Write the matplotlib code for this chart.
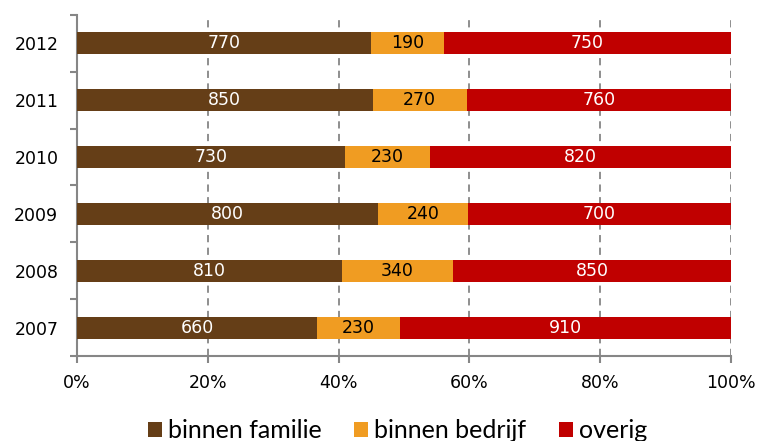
import numpy as np
import matplotlib.pyplot as plt
from matplotlib.ticker import FixedLocator, PercentFormatter

plt.rcParams["font.family"] = ["DejaVu Sans"]

years = ["2007", "2008", "2009", "2010", "2011", "2012"]
familie = [660, 810, 800, 730, 850, 770]
bedrijf = [230, 340, 240, 230, 270, 190]
overig = [910, 850, 700, 820, 760, 750]

series = [("binnen familie", familie, "#653E17", "white"),
          ("binnen bedrijf", bedrijf, "#F09C22", "black"),
          ("overig", overig, "#C00000", "white")]

totals = np.array(familie) + np.array(bedrijf) + np.array(overig)

fig = plt.figure(figsize=(7.59, 4.41), dpi=100)
ax = fig.add_axes([77 / 759, 1 - 356 / 441, 654 / 759, 341 / 441])

grey = "#868686"
y = np.arange(len(years))
left = np.zeros(len(years))
for name, vals, color, tcolor in series:
    share = np.array(vals) / totals * 100
    bars = ax.barh(y, share, left=left, height=0.39, color=color,
                   label=name, zorder=3)
    for b, v in zip(bars, vals):
        ax.text(b.get_x() + b.get_width() / 2, b.get_y() + b.get_height() / 2,
                str(v), ha="center", va="center", color=tcolor,
                fontsize=12.5, zorder=4)
    left += share

ax.set_xlim(0, 100)
ax.set_ylim(-0.5, len(years) - 0.5)
ax.set_xticks(np.arange(0, 101, 20))
ax.xaxis.set_major_formatter(PercentFormatter(decimals=0))
ax.set_yticks(y)
ax.set_yticklabels(years)
ax.yaxis.set_minor_locator(FixedLocator(np.arange(-0.5, len(years), 1)))
ax.tick_params(axis="y", which="major", length=0, pad=13.5, labelsize=12.5)
ax.tick_params(axis="y", which="minor", length=5, width=1.5, color=grey)
ax.tick_params(axis="x", length=5, width=1.5, color=grey, labelsize=12.5, pad=8)

ax.grid(axis="x", color=grey, linestyle=(0, (4, 3)), linewidth=1.3, zorder=0)
for s in ["top", "right"]:
    ax.spines[s].set_visible(False)
for s in ["left", "bottom"]:
    ax.spines[s].set_color(grey)
    ax.spines[s].set_linewidth(1.5)

fig.legend(loc="center", bbox_to_anchor=(397.5 / 759, 10 / 441), ncol=3,
           frameon=False, prop={"family": "Lato", "size": 18},
           handlelength=0.56, handleheight=0.56, handletextpad=0.24,
           columnspacing=1.3)

fig.savefig("out.png", dpi=100)
